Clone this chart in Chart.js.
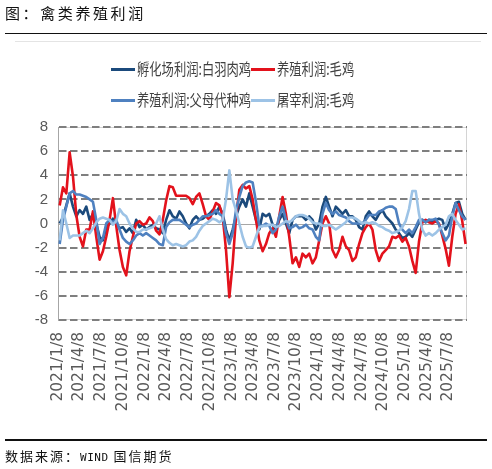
<!DOCTYPE html>
<html>
<head>
<meta charset="utf-8">
<script src="https://cdn.jsdelivr.net/npm/chart.js@4.4.0/dist/chart.umd.min.js"></script>
<style>
html,body{margin:0;padding:0;background:#fff;}
#wrap{position:relative;width:492px;height:469px;overflow:hidden;font-family:"Noto Sans CJK SC",sans-serif;}
#c{position:absolute;left:0;top:0;}
#title{position:absolute;left:5px;top:3px;font-size:15px;letter-spacing:2.6px;color:#111;line-height:20px;white-space:nowrap;}
.hr{position:absolute;left:5px;width:482px;height:1.5px;background:#111;}
#faint{position:absolute;left:15px;width:466px;top:41px;height:1px;background:#e4e4e4;}
.swatch{position:absolute;width:24px;height:3px;}
.ltxt{position:absolute;font-size:12.3px;color:#404040;white-space:nowrap;transform:scaleY(1.3);transform-origin:left center;line-height:16px;}
#footer{position:absolute;left:5px;top:447px;font-size:13px;letter-spacing:2px;color:#111;line-height:18px;white-space:nowrap;}
#footer .mono{font-family:"DejaVu Sans Mono",monospace;font-size:11px;letter-spacing:0.5px;}
</style>
</head>
<body>
<div id="wrap">
  <canvas id="c" width="492" height="469"></canvas>
  <div id="title">图：禽类养殖利润</div>
  <div class="hr" style="top:32.5px"></div>
  <div id="faint"></div>
  <div id="legend"></div>
  <div class="hr" style="top:439px"></div>
  <div id="footer">数据来源：<span class="mono">WIND</span> 国信期货</div>
</div>
<script>
// ---- data (one point every 14 days) ----
const startDate = '2021-01-15';
const stepDays = 14;

const tickLabels = ['2021/1/8','2021/4/8','2021/7/8','2021/10/8','2022/1/8','2022/4/8','2022/7/8','2022/10/8',
  '2023/1/8','2023/4/8','2023/7/8','2023/10/8','2024/1/8','2024/4/8','2024/7/8','2024/10/8',
  '2025/1/8','2025/4/8','2025/7/8'];
const axisEnd = '2025/9/25';

const seriesNames = ['孵化场利润:白羽肉鸡','养殖利润:毛鸡','养殖利润:父母代种鸡','屠宰利润:毛鸡'];
const seriesColors = ['#1b4a7c','#e3121c','#4f81c0','#9dc3e6'];

const hatcheryBroiler = [0.0,0.5,1.5,2.5,1.4,0.6,1.1,0.8,1.4,0.3,
  0.8,0.0,-1.1,-1.4,-0.3,0.0,0.4,0.0,-0.4,-0.3,
  -0.7,-0.4,-0.8,0.3,-0.3,-0.1,-0.5,-0.3,-0.1,-0.4,
  -0.5,-0.8,0.3,1.1,0.6,0.4,1.0,0.6,0.0,-0.4,
  0.3,0.6,0.3,0.4,0.6,0.8,1.1,0.8,1.4,0.8,
  -0.5,-1.4,-0.5,0.6,1.4,2.0,1.4,
  2.5,1.4,0.3,-0.5,0.8,0.6,0.8,-0.1,-0.5,0.3,
  0.8,0.0,-0.8,0.3,0.6,0.6,0.6,0.3,0.6,0.3,
  -0.5,0.0,1.4,2.2,1.4,0.6,1.4,1.1,0.8,1.1,
  0.6,0.6,0.3,-0.3,-0.5,0.6,1.0,0.6,0.3,0.8,
  1.1,0.6,0.3,0.0,-0.5,-0.8,-1.2,-1.1,-0.8,-1.1,
  -0.5,0.1,0.3,0.1,0.3,0.1,0.3,0.4,0.3,-0.5,
  0.0,0.8,1.7,1.8,0.8,0.3];

const farmingBroiler = [1.5,3.0,2.5,5.9,3.9,0.7,-1.1,-1.9,-0.5,-0.5,
  1.0,-1.1,-3.0,-2.3,-1.1,0.3,2.1,-0.2,-2.2,-3.6,
  -4.3,-2.3,-1.1,0.0,0.2,-0.1,0.0,0.5,0.2,-0.6,
  -0.9,0.3,1.9,3.1,3.0,2.3,2.3,2.3,2.3,2.1,
  1.6,2.2,2.5,1.6,0.6,0.3,1.0,1.7,1.5,0.6,
  -2.2,-6.1,-3.3,0.5,2.8,3.2,2.9,
  3.1,2.0,0.3,-1.4,-2.3,-1.7,-0.8,-0.4,-1.1,0.6,
  2.2,0.8,-1.1,-3.3,-2.8,-3.6,-2.5,-2.8,-2.5,-3.3,
  -2.8,-1.4,0.0,0.6,0.0,-2.2,-2.8,-2.2,-1.1,-1.9,
  -2.2,-3.1,-2.8,-1.7,-0.8,-0.3,0.0,-0.5,-2.2,-3.1,
  -2.5,-2.2,-1.9,-1.1,-1.2,-1.0,-1.5,-1.2,-1.9,-3.1,
  -4.1,-1.5,0.1,0.3,0.1,0.0,0.2,0.0,-1.0,-2.1,
  -3.5,-1.1,0.8,1.6,0.2,-1.7];

const farmingParent = [-1.7,0.3,1.4,2.5,2.7,2.4,2.4,2.3,2.2,2.0,
  1.8,0.3,-1.7,-1.2,0.0,0.3,0.1,0.3,-0.5,-1.2,
  -1.5,-1.7,-1.4,-1.0,-0.8,-1.0,-0.8,-1.0,-1.2,-1.4,
  -1.7,-1.8,-0.3,0.1,0.3,0.3,0.3,0.1,-0.1,-0.3,
  -0.1,0.0,0.3,0.6,0.6,0.7,0.8,1.1,0.8,0.6,
  -0.8,-1.7,-0.8,1.1,2.2,3.1,3.4,
  3.5,3.4,1.8,-0.2,-0.2,0.0,-0.2,-0.8,-0.5,0.6,
  1.4,0.3,-0.4,-0.3,-0.1,-0.4,-0.3,-0.1,-0.4,-0.5,
  -1.1,-1.4,0.8,1.7,1.1,0.8,1.0,0.7,0.6,0.5,
  0.2,0.0,0.0,0.0,0.0,0.3,0.7,0.7,0.7,1.0,
  1.1,1.3,1.4,1.4,1.2,0.0,-0.5,-0.8,-0.5,-0.8,
  -0.3,0.3,0.3,0.1,0.3,0.3,0.4,-0.1,-0.8,-1.4,
  -1.0,0.6,1.7,1.1,0.6,0.3];

const slaughterBroiler = [-1.4,1.1,0.0,-1.2,-1.0,-1.0,-1.0,-0.8,-0.6,-0.8,
  -0.4,0.1,0.4,0.5,0.4,0.3,-0.1,0.2,1.2,0.8,
  0.6,0.0,-0.4,-0.7,-0.7,-0.5,-0.5,-0.4,-0.3,0.0,
  0.6,-0.5,-1.3,-1.6,-1.8,-1.7,-1.8,-1.9,-1.8,-1.5,
  -1.4,-1.1,-0.6,-0.2,0.0,0.2,0.4,0.3,0.1,0.3,
  2.0,4.4,2.0,1.1,0.0,-1.1,-1.9,
  -2.0,-1.9,-1.1,-0.3,-0.2,-0.2,-0.1,-0.1,-0.3,-0.2,
  0.0,0.2,0.1,0.3,0.6,0.7,0.7,0.6,0.4,0.1,
  0.0,0.0,-0.2,-0.2,-0.1,-0.3,-0.5,-0.3,-0.1,0.1,
  0.5,0.5,0.4,0.2,0.0,0.1,0.0,0.1,0.0,-0.2,
  -0.3,-0.5,-0.6,-0.8,-0.7,-0.6,-0.3,0.2,1.2,2.7,
  2.7,0.8,-0.5,-1.0,-0.8,-1.0,-0.8,-0.5,-0.3,-0.1,
  0.6,0.8,0.3,-0.1,-0.5,-0.4];

const yMin = -8, yMax = 8, yStep = 2;

// ---- helpers ----
const DAY = 86400000;
function dayOf(s){
  const p = s.split(/[\/-]/).map(Number);
  return Math.round((Date.UTC(p[0],p[1]-1,p[2]) - Date.UTC(2021,0,8)) / DAY);
}
const tickDays = tickLabels.map(dayOf);
const startDay = dayOf(startDate);
const toPoints = arr => arr.map((v,i) => ({x: startDay + stepDays*i, y: v}));

const allSeries = [hatcheryBroiler, farmingBroiler, farmingParent, slaughterBroiler];
const drawOrder = [3, 2, 1, 0]; // later series painted on top

// ---- HTML legend (2 x 2) ----
const legendEl = document.getElementById('legend');
const legendPos = [[111,69],[251,69],[111,100],[251,100]];
seriesNames.forEach((name,i) => {
  const [lx,ly] = legendPos[i];
  const sw = document.createElement('div');
  sw.className = 'swatch';
  sw.style.left = lx + 'px'; sw.style.top = (ly-1.5) + 'px';
  sw.style.background = seriesColors[i];
  legendEl.appendChild(sw);
  const t = document.createElement('div');
  t.className = 'ltxt';
  t.style.left = (lx+26) + 'px'; t.style.top = (ly-8) + 'px';
  t.textContent = name;
  legendEl.appendChild(t);
});

// ---- plot frame & zero line ----
const framePlugin = {
  id: 'frame',
  beforeDraw(chart){
    const {ctx, chartArea:a} = chart;
    ctx.save();
    ctx.strokeStyle = '#d4d4d4';
    ctx.lineWidth = 1;
    ctx.strokeRect(a.left+0.5, a.top+0.5, a.right-a.left-1, a.bottom-a.top-1);
    ctx.restore();
  },
  beforeDatasetsDraw(chart){
    const {ctx, chartArea:a, scales:{y}} = chart;
    const py = Math.round(y.getPixelForValue(0)) + 0.5;
    ctx.save();
    ctx.strokeStyle = '#a6a6a6';
    ctx.lineWidth = 1;
    ctx.beginPath(); ctx.moveTo(a.left, py); ctx.lineTo(a.right, py); ctx.stroke();
    ctx.restore();
  }
};

new Chart(document.getElementById('c'), {
  type: 'line',
  data: {
    datasets: allSeries.map((arr,i) => ({
      label: seriesNames[i],
      data: toPoints(arr),
      borderColor: seriesColors[i],
      backgroundColor: seriesColors[i],
      borderWidth: 2.6,
      pointRadius: 0,
      tension: 0,
      borderJoinStyle: 'round',
      order: drawOrder[i]
    }))
  },
  options: {
    responsive: false,
    animation: false,
    events: [],
    layout: { padding: { top: 127, right: 25, bottom: 0, left: 0 } },
    plugins: { legend: { display: false }, title: { display: false }, tooltip: { enabled: false } },
    scales: {
      x: {
        type: 'linear',
        min: 0,
        max: dayOf(axisEnd),
        afterBuildTicks: s => { s.ticks = tickDays.map(v => ({ value: v })); },
        afterFit: s => { s.height = 469 - 320; },
        ticks: {
          autoSkip: false, minRotation: 90, maxRotation: 90, padding: 12,
          color: '#595959',
          font: { family: '"DejaVu Sans", sans-serif', size: 15.5 },
          callback: (v, i) => tickLabels[i]
        },
        grid: { display: false, drawTicks: false },
        border: { display: false }
      },
      y: {
        min: yMin, max: yMax,
        afterFit: s => { s.width = 58; },
        ticks: {
          stepSize: yStep, padding: 10, color: '#595959',
          font: { family: '"Liberation Sans", Arial, sans-serif', size: 15 }
        },
        grid: {
          drawTicks: false,
          lineWidth: 2,
          color: c => (c.tick && c.tick.value === 0) ? 'rgba(0,0,0,0)' : '#7f7f7f'
        },
        border: { display: true, color: '#a6a6a6', width: 1, dash: [7.5, 3.5] }
      }
    }
  },
  plugins: [framePlugin]
});
</script>
</body>
</html>
